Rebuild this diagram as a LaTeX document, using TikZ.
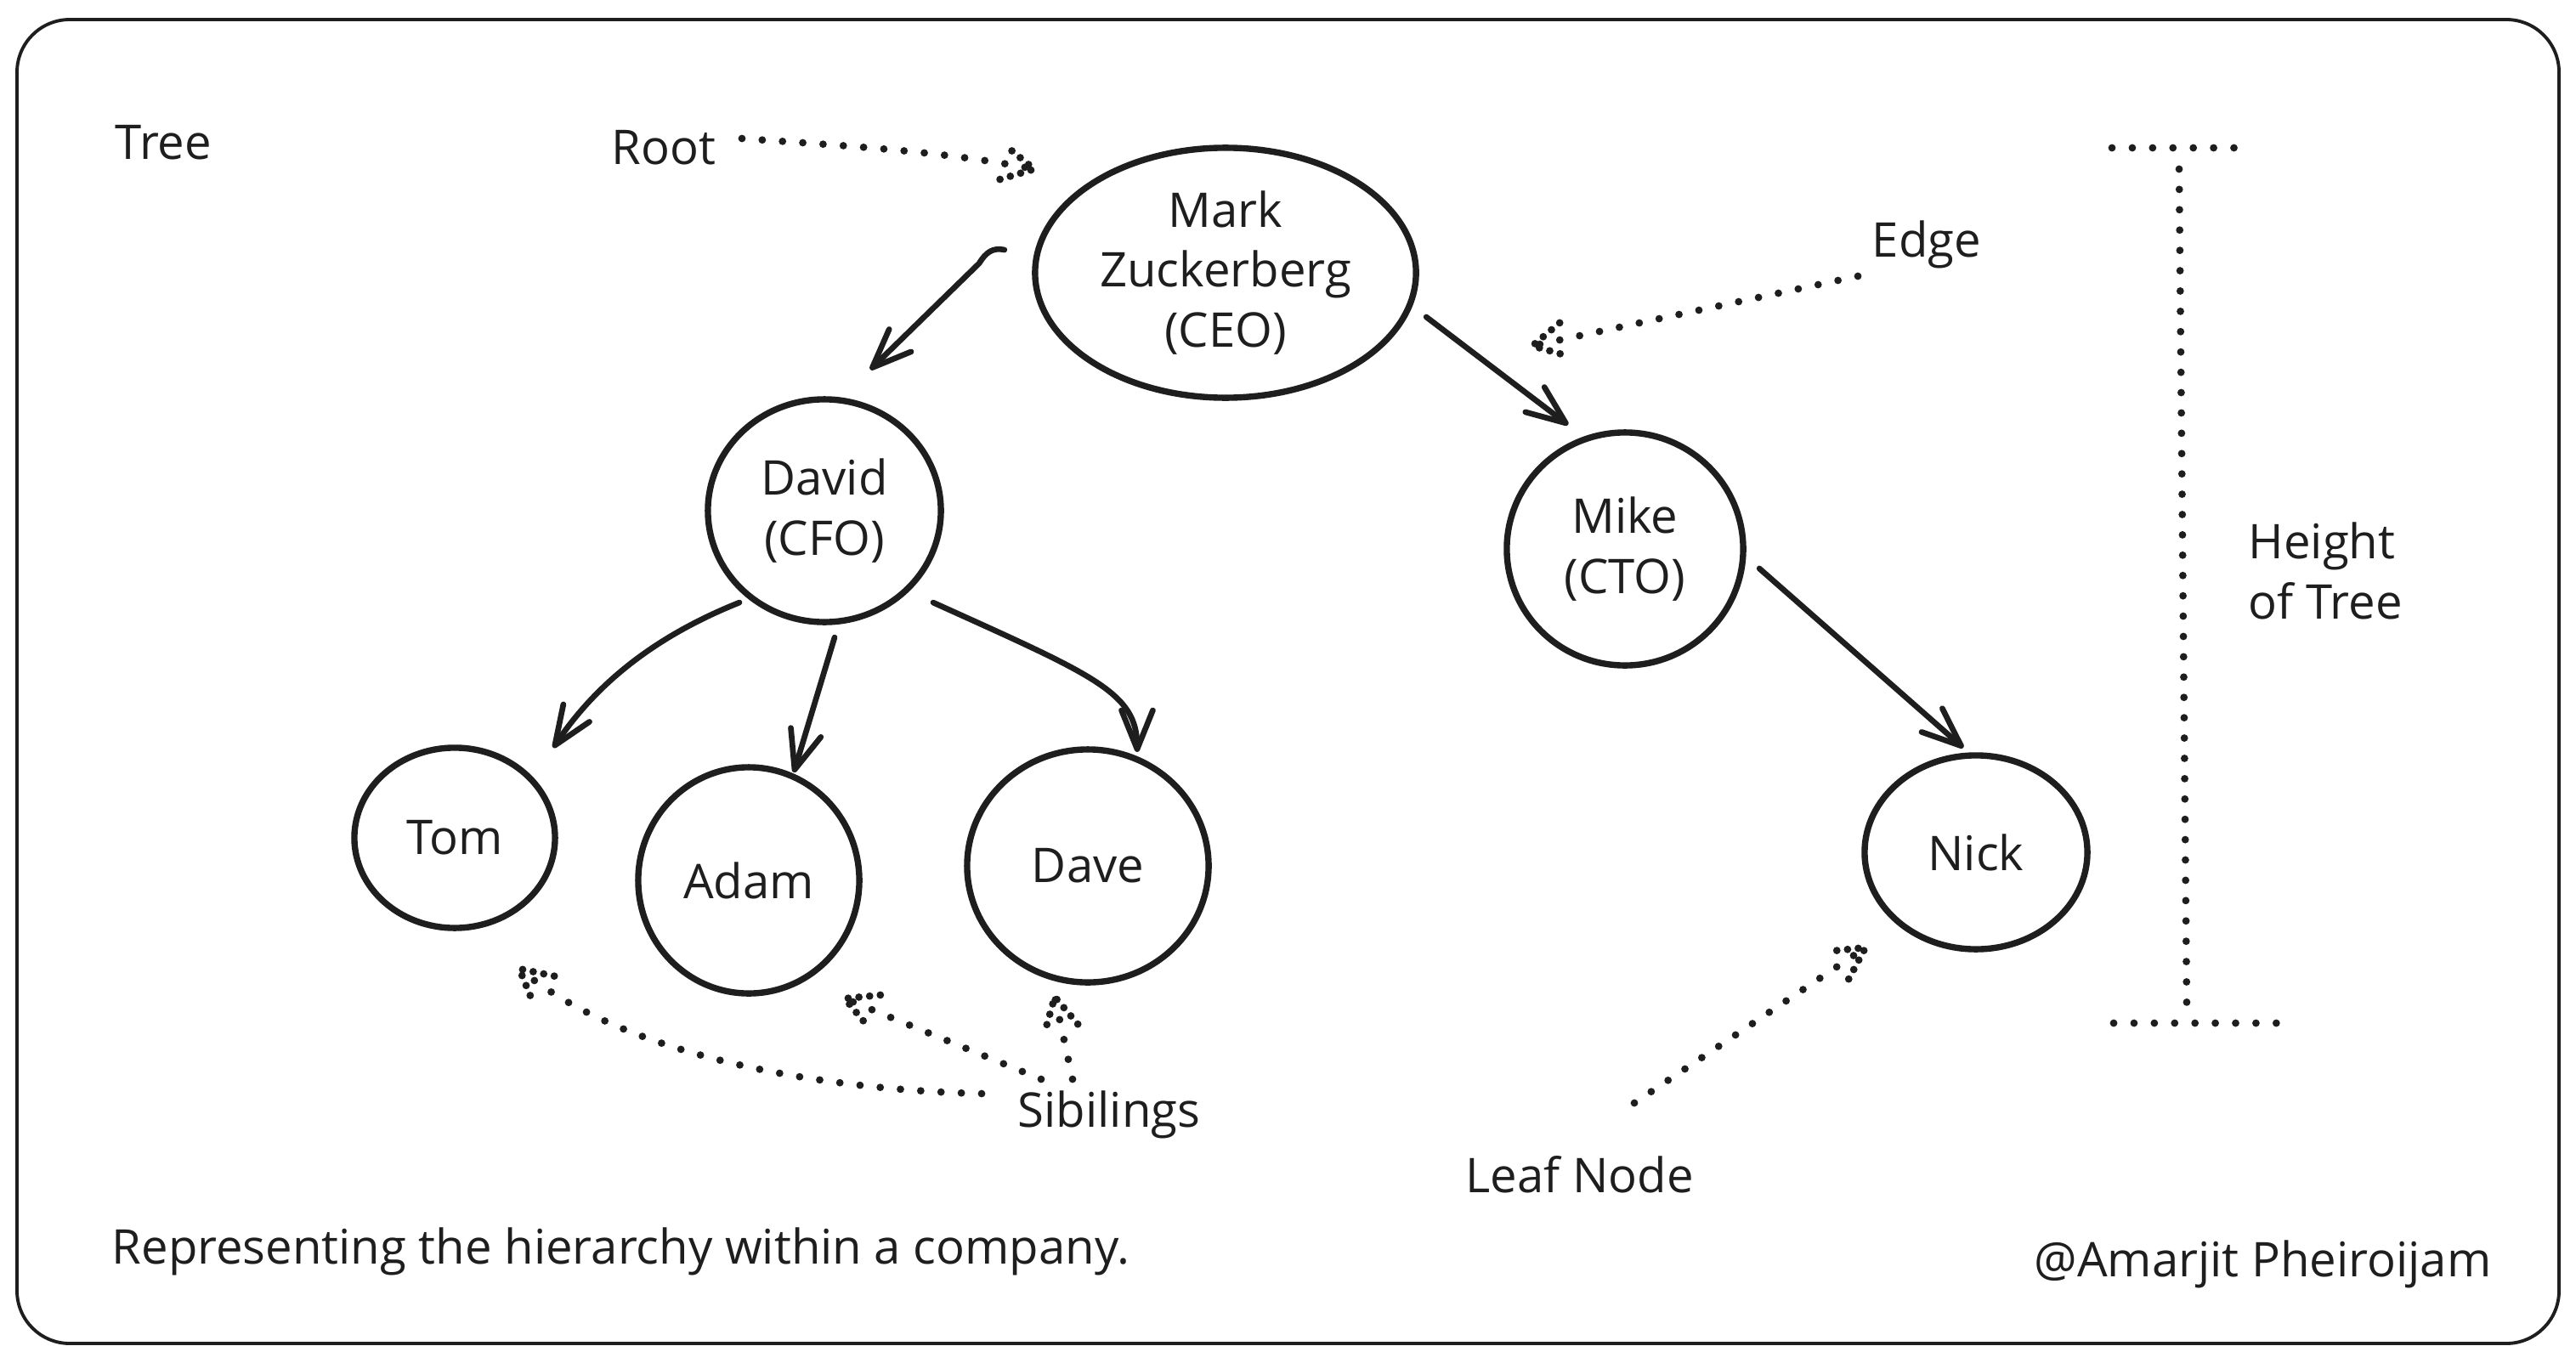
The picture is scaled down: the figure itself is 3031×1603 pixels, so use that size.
\documentclass[tikz,border=0pt]{standalone}
\usepackage{fontspec}
\setmainfont{Open Sans}
\usetikzlibrary{shapes.geometric,arrows.meta,calc}
\definecolor{ink}{HTML}{1E1E1E}
\newcommand\dotbarbs[2]{\draw[barbdots] ($(#1)!0.42cm!28:(#2)$) -- (#1) -- ($(#1)!0.42cm!-28:(#2)$);}
\begin{document}
\begin{tikzpicture}[x=0.01cm,y=-0.01cm,
  every node/.style={text=ink, font=\fontsize{16}{20}\selectfont},
  person/.style={ellipse, draw=ink, line width=2.1pt, inner sep=0pt, outer sep=0pt, align=center},
  lbl/.style={anchor=west, inner sep=0pt},
  arr/.style={draw=ink, line width=1.9pt, line cap=round, line join=round, -{Straight Barb[length=13pt,width=10.5pt,round]}},
  dotline/.style={draw=ink, line width=2.5pt, line cap=round, dash pattern=on 0pt off 6.8pt},
  barbdots/.style={draw=ink, line width=2.5pt, line cap=round, dash pattern=on 0pt off 3.6pt},
]
\useasboundingbox (0,0) rectangle (3031,1603);
\fill[white] (0,0) rectangle (3031,1603);
\draw[ink, line width=1.1pt, rounded corners=0.62cm] (20,23) rectangle (3011,1581);

% tree nodes
\node[person, minimum width=4.48cm, minimum height=2.94cm] (mark) at (1442,321) {Mark\\Zuckerberg\\(CEO)};
\node[person, minimum width=2.74cm, minimum height=2.62cm] (david) at (970,601) {David\\(CFO)};
\node[person, minimum width=2.78cm, minimum height=2.74cm] (mike) at (1912,646) {Mike\\(CTO)};
\node[person, minimum width=2.36cm, minimum height=2.12cm] (tom) at (535,986) {Tom};
\node[person, minimum width=2.60cm, minimum height=2.66cm] (adam) at (881,1036) {Adam};
\node[person, minimum width=2.84cm, minimum height=2.74cm] (dave) at (1280,1019) {Dave};
\node[person, minimum width=2.62cm, minimum height=2.28cm] (nick) at (2325,1003) {Nick};

% labels
\node[lbl] (tree) at (135,168) {Tree};
\node[lbl] (root) at (719,174) {Root};
\node[lbl] (edge) at (2202,288) {Edge};
\node[lbl, align=left] (height) at (2645,672) {Height\\of Tree};
\node[lbl] (sib) at (1197,1312) {Sibilings};
\node[lbl] (leaf) at (1724,1382) {Leaf Node};
\node[lbl] (caption) at (131,1473) {Representing the hierarchy within a company.};
\node[lbl] (author) at (2393,1488) {@Amarjit Pheiroijam};

% solid edges
\draw[arr] ($(mark.west)+(-36,-27)$) .. controls (1168,291) and (1160,297) .. (1152,310) -- ($(david.north)+(54,-35)$);
\draw[arr] ($(mark.east)+(12,52)$) -- ($(mike.north)+(-67,-9)$);
\draw[arr] ($(mike.east)+(19,23)$) -- ($(nick.north)+(-15,-9)$);
\draw[arr] ($(david.south)+(12,18)$) -- ($(adam.north)+(53,6)$);
\draw[arr] ($(david.south)+(-100,-23)$) .. controls (770,749) and (701,805) .. ($(tom.north)+(116,0)$);
\draw[arr] ($(david.south)+(128,-23)$) .. controls (1288,795) and (1338,815) .. ($(dave.north)+(58,3)$);

% dotted pointers
\coordinate (rootS) at ($(root.west)+(154,-11)$);
\coordinate (rootT) at ($(mark.west)+(-1,-122)$);
\coordinate (rootB) at ($(rootT)+(-110,-22)$);
\draw[dotline] (rootS) .. controls ($(rootS)+(110,8)$) and (rootB) .. (rootT);
\dotbarbs{rootT}{rootB}

\coordinate (edgeS) at ($(edge.west)+(-16,37)$);
\coordinate (edgeT) at (1803,407);
\draw[dotline] (edgeS) -- (edgeT);
\dotbarbs{edgeT}{edgeS}

\coordinate (s1) at ($(sib.west)+(-42,-25)$);
\coordinate (t1) at ($(tom.south)+(76,48)$);
\coordinate (c1a) at (955,1282);
\coordinate (c1b) at (731,1240);
\draw[dotline] (s1) .. controls (c1a) and (c1b) .. (t1);
\dotbarbs{t1}{c1b}

\coordinate (s2) at ($(sib.west)+(28,-42)$);
\coordinate (t2) at ($(adam.south)+(113,6)$);
\draw[dotline] (s2) -- (t2);
\dotbarbs{t2}{s2}

\coordinate (s3) at ($(sib.west)+(65,-42)$);
\coordinate (t3) at ($(dave.south)+(-39,17)$);
\draw[dotline] (s3) -- (t3);
\dotbarbs{t3}{s3}

\coordinate (s4) at ($(leaf.west)+(199,-84)$);
\coordinate (t4) at ($(nick.south)+(-130,-2)$);
\draw[dotline] (s4) -- (t4);
\dotbarbs{t4}{s4}

% height of tree marker
\draw[dotline] (2485,174) -- (2630,174);
\draw[dotline] (2564,199) -- (2573,1185);
\draw[dotline] (2487,1204) -- (2680,1204);
\end{tikzpicture}
\end{document}
